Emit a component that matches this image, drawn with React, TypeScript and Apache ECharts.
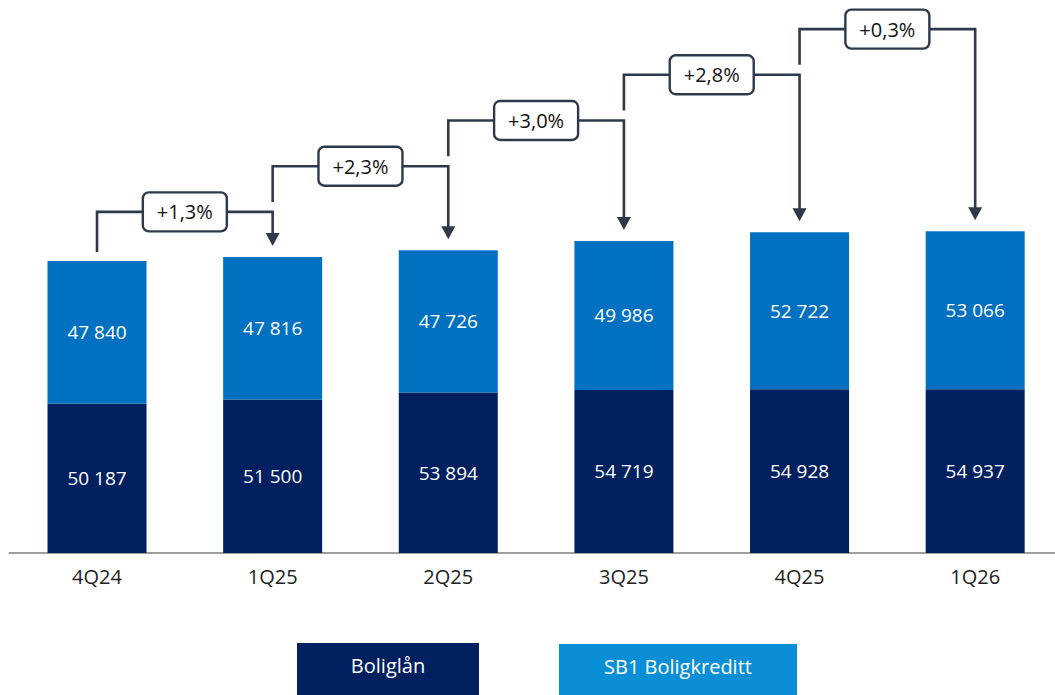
import React, { useEffect, useRef } from 'react';
import * as echarts from 'echarts';

const categories = ['4Q24', '1Q25', '2Q25', '3Q25', '4Q25', '1Q26'];
const boliglan = [50187, 51500, 53894, 54719, 54928, 54937];
const sb1Boligkreditt = [47840, 47816, 47726, 49986, 52722, 53066];
const growthLabels = ['+1,3%', '+2,3%', '+3,0%', '+2,8%', '+0,3%'];
const seriesNames = ['Boliglån', 'SB1 Boligkreditt'];

const FONT = '"Open Sans", "Noto Sans", sans-serif';
const NAVY = '#002060';
const BLUE = '#0070C0';
const LEGEND_BLUE = '#0A8FD6';
const LINE = '#2E3A4B';

const fmt = (v: number) => String(v).replace(/\B(?=(\d{3})+(?!\d))/g, ' ');

export default function App() {
  const ref = useRef<HTMLDivElement>(null);
  useEffect(() => {
    if (!ref.current) return;
    const chart = echarts.init(ref.current, null, { renderer: 'svg' });
    const totals = boliglan.map((v, i) => v + sb1Boligkreditt[i]);

    const renderItem = (params: any, api: any) => {
      const i = params.dataIndex;
      const p0 = api.coord([i, totals[i]]);
      const p1 = api.coord([i + 1, totals[i + 1]]);
      const first = api.coord([0, totals[0]]);
      const level0 = first[1] - 49;
      const level = level0 - i * 45.7;
      const startY = i === 0 ? p0[1] - 9 : level0 - (i - 1) * 45.7 - 10;
      const tipY = p1[1] - 11;
      const ah = 13;
      const aw = 7;
      const mid = (p0[0] + p1[0]) / 2;
      const bw = 84;
      const bh = 39;
      return {
        type: 'group',
        children: [
          {
            type: 'polyline',
            shape: { points: [[p0[0], startY], [p0[0], level], [p1[0], level], [p1[0], tipY - ah + 1]] },
            style: { stroke: LINE, lineWidth: 2.6, fill: null },
          },
          {
            type: 'polygon',
            shape: { points: [[p1[0] - aw, tipY - ah], [p1[0] + aw, tipY - ah], [p1[0], tipY]] },
            style: { fill: LINE },
          },
          {
            type: 'rect',
            shape: { x: mid - bw / 2, y: level - bh / 2, width: bw, height: bh, r: 6 },
            style: { fill: '#ffffff', stroke: LINE, lineWidth: 2.4 },
          },
          {
            type: 'text',
            style: {
              x: mid,
              y: level,
              text: growthLabels[i],
              align: 'center',
              verticalAlign: 'middle',
              fill: '#111111',
              font: `20px ${FONT}`,
            },
          },
        ],
      };
    };

    chart.setOption({
      animation: false,
      grid: { left: 9.2, right: 0, top: 16.6, bottom: 142 },
      xAxis: {
        type: 'category',
        data: categories,
        axisTick: { show: false },
        axisLine: { lineStyle: { color: '#7F7F7F', width: 1.5 } },
        axisLabel: { color: '#222222', fontSize: 20, fontFamily: FONT, margin: 13 },
      },
      yAxis: { type: 'value', min: 0, max: 180000, show: false },
      series: [
        {
          name: seriesNames[0],
          type: 'bar',
          stack: 'total',
          data: boliglan,
          barWidth: 99,
          itemStyle: { color: NAVY },
          label: {
            show: true,
            position: 'inside',
            color: '#ffffff',
            fontSize: 19,
            fontFamily: FONT,
            formatter: (p: any) => fmt(p.value),
          },
        },
        {
          name: seriesNames[1],
          type: 'bar',
          stack: 'total',
          data: sb1Boligkreditt,
          barWidth: 99,
          itemStyle: { color: BLUE },
          label: {
            show: true,
            position: 'inside',
            color: '#ffffff',
            fontSize: 19,
            fontFamily: FONT,
            formatter: (p: any) => fmt(p.value),
          },
        },
        {
          type: 'custom',
          clip: false,
          z: 10,
          renderItem,
          data: growthLabels.map((_, i) => [i, totals[i]]),
        },
      ],
      graphic: [
        {
          type: 'group',
          children: [
            { type: 'rect', shape: { x: 297, y: 643, width: 182, height: 52 }, style: { fill: NAVY } },
            {
              type: 'text',
              style: { x: 388, y: 665, text: seriesNames[0], align: 'center', verticalAlign: 'middle', fill: '#ffffff', font: `20px ${FONT}` },
            },
            { type: 'rect', shape: { x: 559, y: 644, width: 238, height: 51 }, style: { fill: LEGEND_BLUE } },
            {
              type: 'text',
              style: { x: 678, y: 666, text: seriesNames[1], align: 'center', verticalAlign: 'middle', fill: '#ffffff', font: `20px ${FONT}` },
            },
          ],
        },
      ],
    });
    return () => chart.dispose();
  }, []);
  return (
    <div style={{ position: 'fixed', left: 0, top: 0, width: 1055, height: 695, overflow: 'hidden', background: '#ffffff' }}>
      <div ref={ref} style={{ position: 'absolute', left: 0, top: 0, width: 1063, height: 695 }} />
    </div>
  );
}
